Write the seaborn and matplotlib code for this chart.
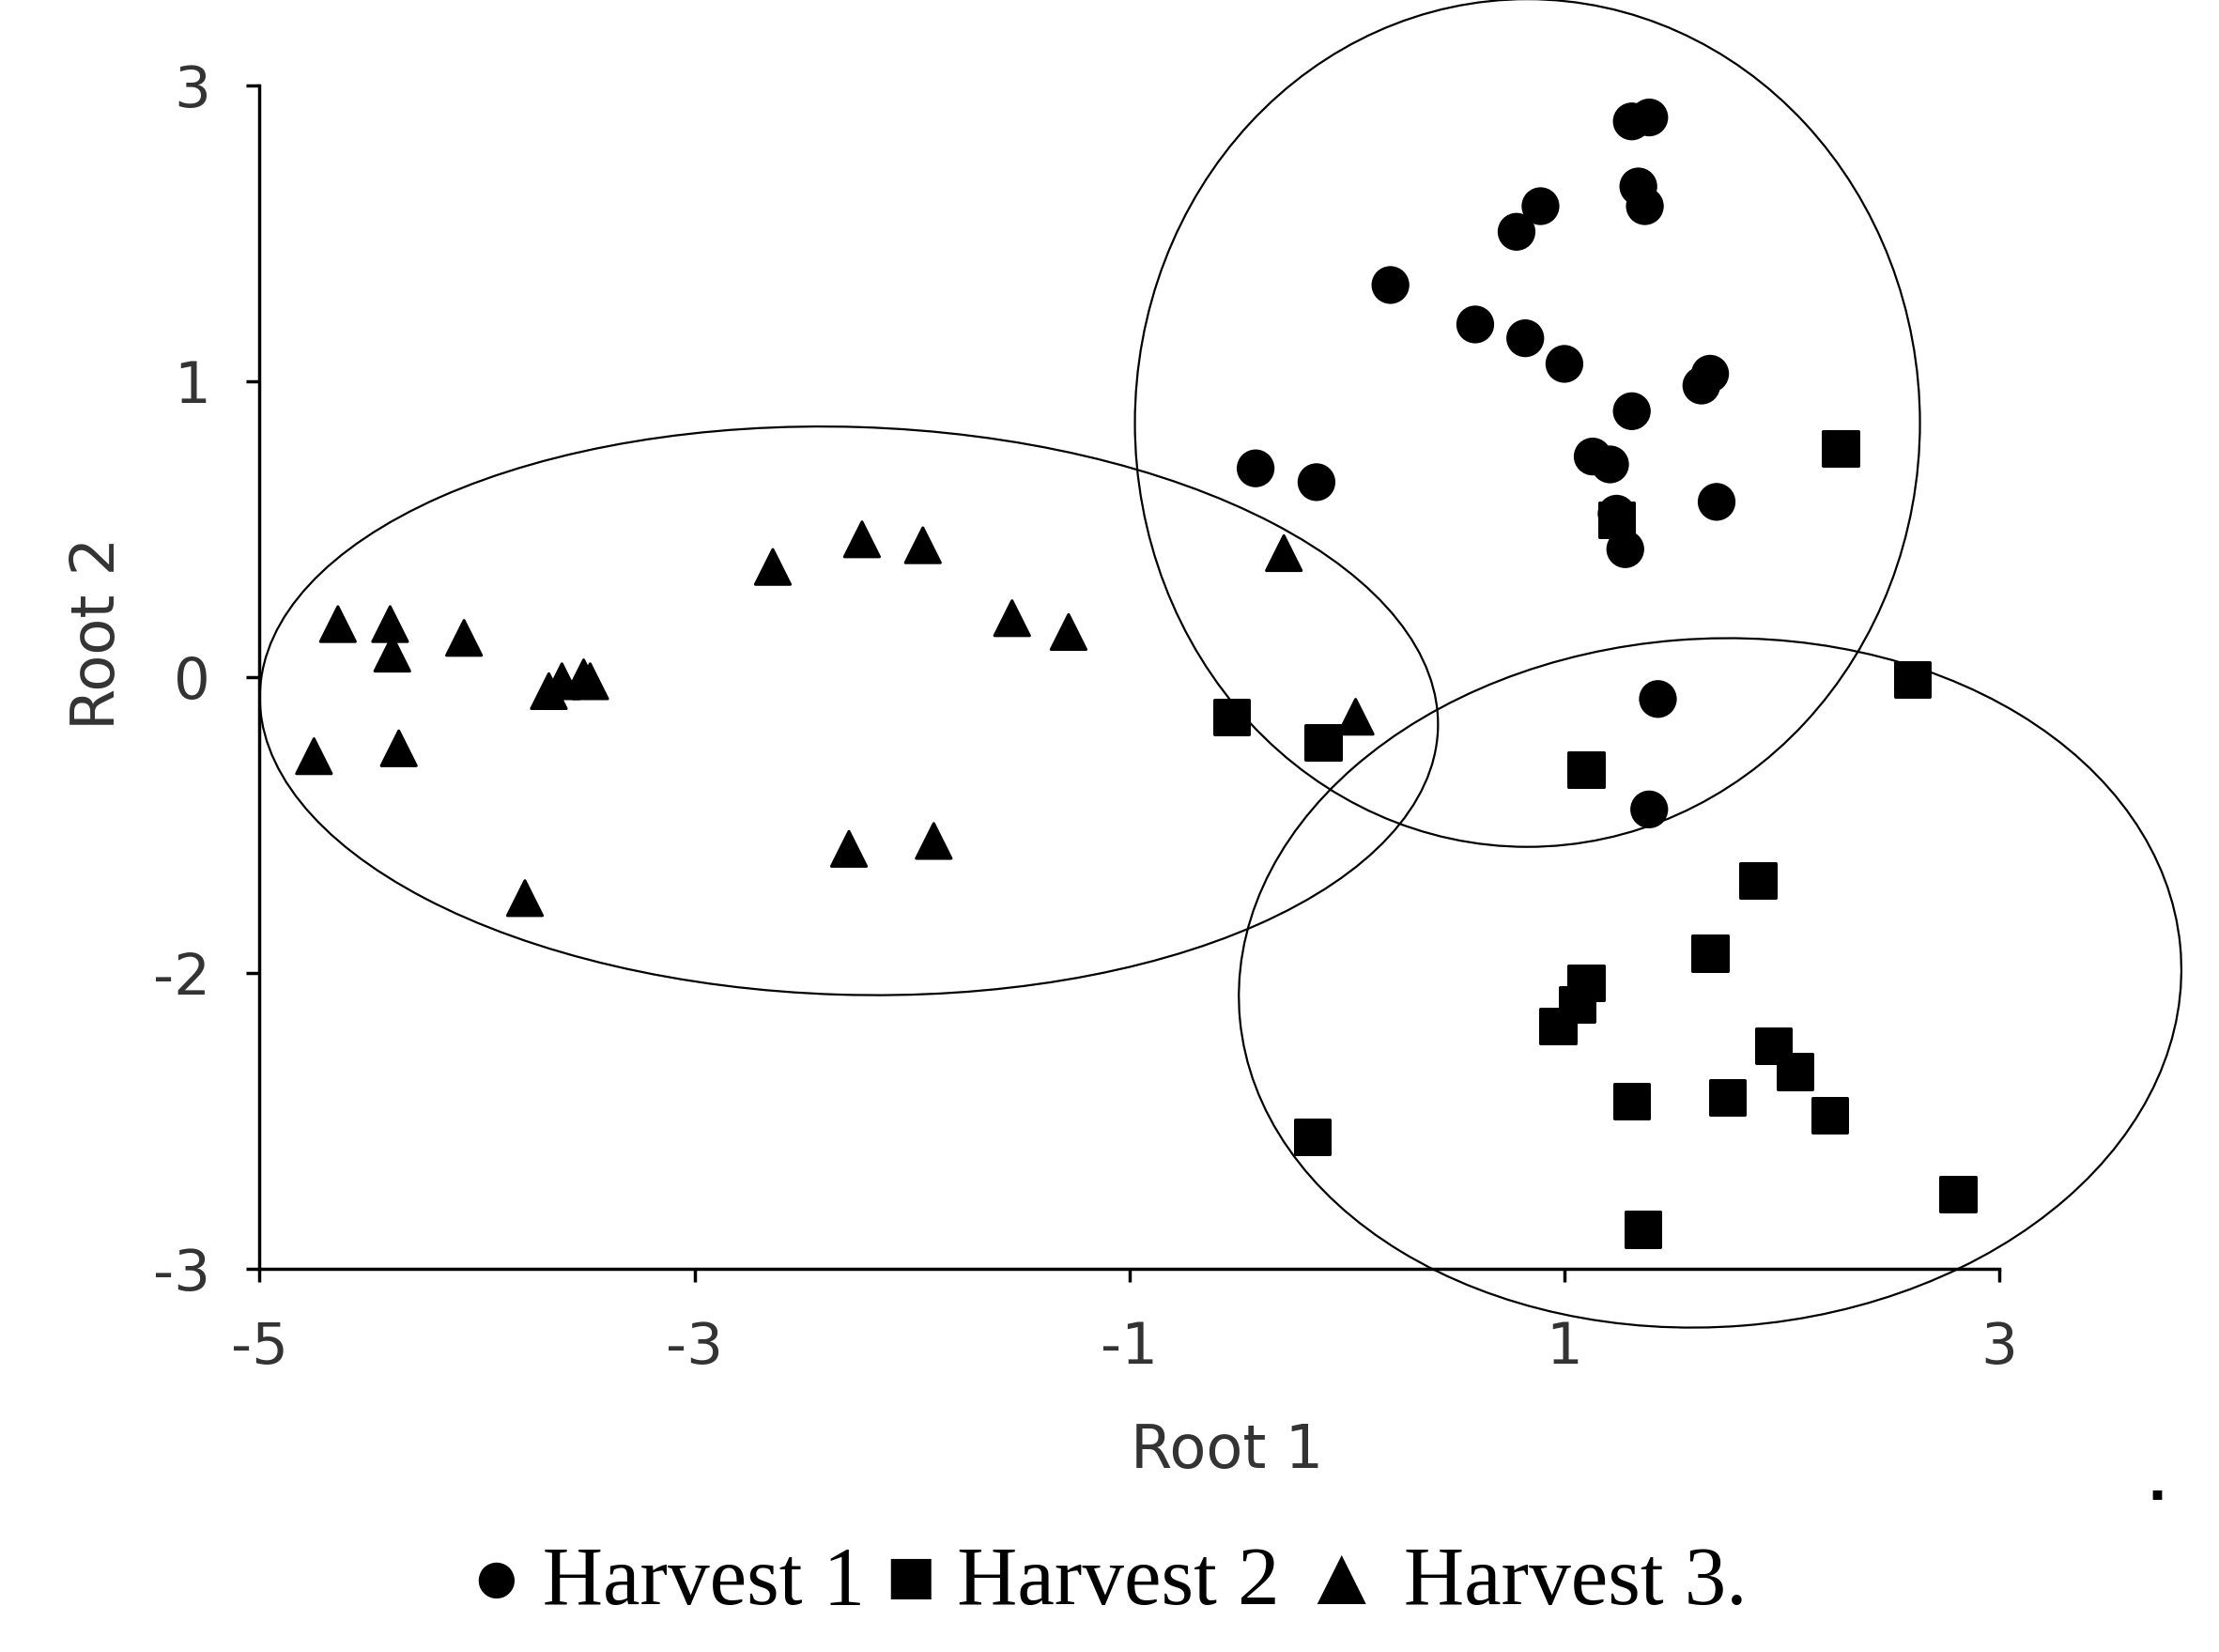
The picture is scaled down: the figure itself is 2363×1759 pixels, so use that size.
import matplotlib.pyplot as plt
import seaborn as sns
import pandas as pd
from matplotlib.patches import Ellipse

# Harvest 1 (circles)
h1_x = [1.31, 1.39, 1.34, 1.37, 0.89, 0.78, 0.20, 0.59, 0.82, 1.00, 1.67, 1.63,
        1.31, 1.13, 1.21, -0.42, -0.14, 1.70, 1.24, 1.28, 1.43, 1.39]
h1_y = [2.82, 2.84, 2.49, 2.39, 2.39, 2.26, 1.99, 1.79, 1.72, 1.59, 1.54, 1.48,
        1.35, 1.12, 1.08, 1.06, 0.99, 0.89, 0.83, 0.65, -0.11, -0.67]
# Harvest 2 (squares)
h2_x = [2.27, 1.24, -0.53, -0.11, 2.60, 1.10, 1.89, 1.67, 1.10, 1.06, 0.97, 1.96,
        2.06, 2.22, 1.75, 1.31, -0.16, 2.81, 1.36]
h2_y = [1.16, 0.80, -0.20, -0.33, -0.01, -0.47, -1.03, -1.40, -1.55, -1.66, -1.77, -1.87,
        -2.00, -2.22, -2.13, -2.15, -2.33, -2.62, -2.80]
# Harvest 3 (triangles)
h3_x = [-4.64, -4.40, -4.39, -4.06, -4.75, -4.36, -3.78, -3.67, -3.61, -3.51, -3.48,
        -2.64, -2.23, -1.95, -1.54, -1.28, -2.29, -1.90, -0.29, 0.04]
h3_y = [0.27, 0.27, 0.12, 0.20, -0.40, -0.36, -1.12, -0.07, -0.02, 0.00, -0.02,
        0.56, 0.70, 0.67, 0.30, 0.23, -0.87, -0.83, 0.63, -0.20]

x_ticks = [-5, -3, -1, 1, 3]
y_ticks = [-3, -1.5, 0, 1.5, 3]
y_labels = ['-3', '-2', '0', '1', '3']

df = pd.DataFrame({
    'x': h1_x + h2_x + h3_x,
    'y': h1_y + h2_y + h3_y,
    'g': ['H1'] * len(h1_x) + ['H2'] * len(h2_x) + ['H3'] * len(h3_x),
})

sns.set_style('white')
plt.rcParams['font.family'] = ['DejaVu Sans']

fig = plt.figure(figsize=(23.63, 17.59), dpi=100)
ax = fig.add_axes([0.117, 0.232, 0.784 * 8.9 / 8.0, 0.716 * 6.45 / 6.0])

sns.scatterplot(data=df, x='x', y='y', style='g', markers={'H1': 'o', 'H2': 's', 'H3': '^'},
                color='black', s=720, edgecolor='black', legend=False, ax=ax, zorder=3)

for (cx, cy), w, h, a in [((-2.29, -0.17), 5.42, 2.88, -2), ((0.83, 1.29), 3.61, 4.30, 0),
                          ((1.67, -1.55), 4.34, 3.49, 5)]:
    ax.add_patch(Ellipse((cx, cy), w, h, angle=a, fill=False, edgecolor='black',
                         linewidth=1.6, clip_on=False))

ax.set_xlim(-5, 3.9)
ax.set_ylim(-3, 3.45)
ax.set_xticks(x_ticks)
ax.set_xticklabels([str(t) for t in x_ticks])
ax.set_yticks(y_ticks)
ax.set_yticklabels(y_labels)
for s in ['top', 'right']:
    ax.spines[s].set_visible(False)
for s in ['left', 'bottom']:
    ax.spines[s].set_color('black')
    ax.spines[s].set_linewidth(2.5)
ax.spines['bottom'].set_bounds(-5, 3)
ax.spines['left'].set_bounds(-3, 3)
ax.tick_params(axis='both', direction='out', length=10, width=2.5, colors='black',
               labelsize=44, labelcolor='#333333', bottom=True, left=True)
ax.tick_params(axis='x', pad=30)
ax.tick_params(axis='y', pad=28)
ax.set_xlabel('Root 1', fontsize=46, color='#333333', labelpad=35)
ax.set_ylabel('Root 2', fontsize=46, color='#333333', labelpad=20)

fig.text(0.5, 0.018, '\u25cf Harvest 1 \u25a0 Harvest 2 \u25b2 Harvest 3.', ha='center', va='bottom',
         fontsize=64, family=['Liberation Serif', 'DejaVu Sans'], color='black')
fig.text(0.972, 0.085, '.', ha='center', va='bottom', fontsize=40, color='black', weight='bold')

fig.savefig('out.png', dpi=100)
